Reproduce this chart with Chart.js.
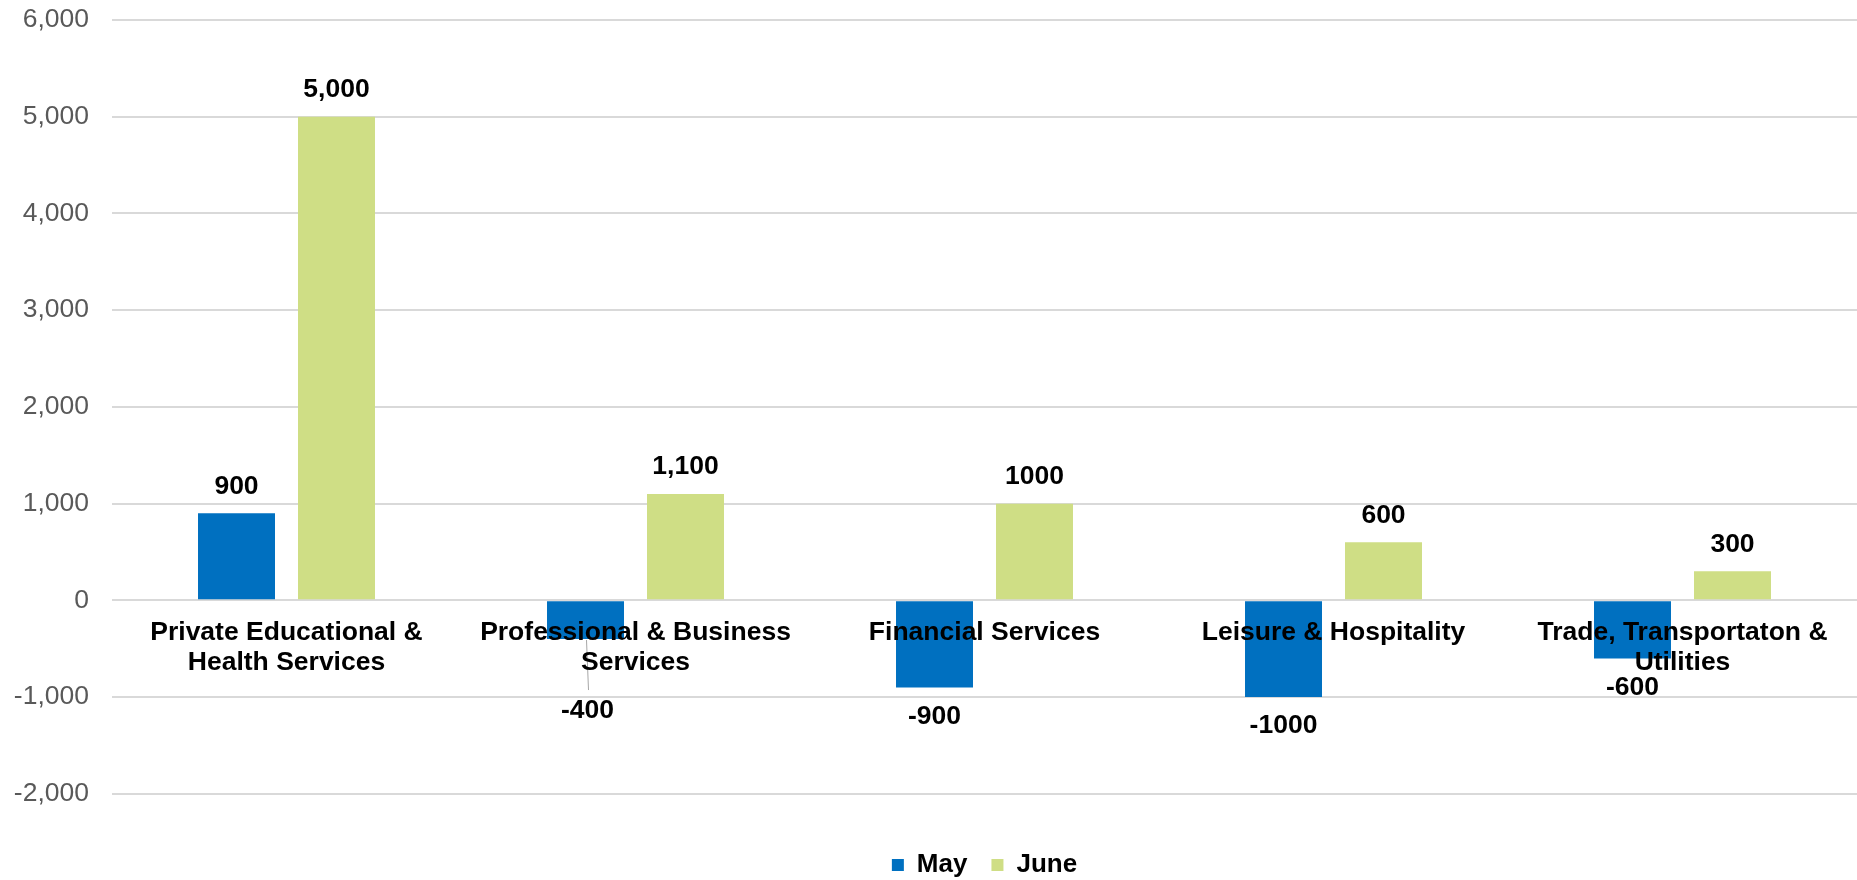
<!DOCTYPE html>
<html>
<head>
<meta charset="utf-8">
<title>Employment change: May vs June</title>
<script src="https://cdn.jsdelivr.net/npm/chart.js@4.4.0/dist/chart.umd.min.js"></script>
<style>
  html, body { margin: 0; padding: 0; background: #fff; }
  #wrap { width: 1857px; height: 880px; }
</style>
</head>
<body>
<div id="wrap"><canvas id="jobsChart"></canvas></div>
<script>
// --- data ---
const categories = [
    ['Private Educational &', 'Health Services'],
    ['Professional & Business', 'Services'],
    'Financial Services',
    'Leisure & Hospitality',
    ['Trade, Transportaton &', 'Utilities']
];
const mayValues = [900, -400, -900, -1000, -600];
const juneValues = [5000, 1100, 1000, 600, 300];
// labels as printed on the bars (source mixes comma / no comma)
const mayLabels = ['900', '-400', '-900', '-1000', '-600'];
const juneLabels = ['5,000', '1,100', '1000', '600', '300'];
const yTicks = [-2000, -1000, 0, 1000, 2000, 3000, 4000, 5000, 6000];

const FONT = '"Liberation Sans", Arial, sans-serif';
Chart.defaults.font.family = FONT;

// value labels above / below each bar
const barLabels = {
    id: 'barLabels',
    afterDatasetsDraw(chart, args, opts) {
        const ctx = chart.ctx;
        const texts = [mayLabels, juneLabels];
        ctx.save();
        ctx.font = 'bold 26.5px ' + FONT;
        ctx.fillStyle = '#000';
        ctx.textAlign = 'center';
        ctx.textBaseline = 'middle';
        chart.data.datasets.forEach((ds, i) => {
            chart.getDatasetMeta(i).data.forEach((bar, j) => {
                const v = ds.data[j];
                const drop = (opts.drop && opts.drop[i + '-' + j]) || 0;
                const y = v >= 0 ? bar.y - 27 : bar.y + 29 + drop;
                if (drop) {
                    // leader line for the moved label
                    ctx.strokeStyle = '#a6a6a6';
                    ctx.lineWidth = 1;
                    ctx.beginPath();
                    ctx.moveTo(bar.x + 1, bar.y + 1);
                    ctx.lineTo(bar.x + 3, y - 21);
                    ctx.stroke();
                }
                ctx.fillText(texts[i][j], bar.x + (drop ? 2 : 0), y);
            });
        });
        ctx.restore();
    }
};

const ctx = document.getElementById('jobsChart').getContext('2d');
new Chart(ctx, {
    type: 'bar',
    data: {
        labels: categories,
        datasets: [
            {
                label: 'May',
                data: mayValues,
                backgroundColor: '#0070C0',
                categoryPercentage: 0.573,
                barPercentage: 0.77
            },
            {
                label: 'June',
                data: juneValues,
                backgroundColor: '#CFDE85',
                categoryPercentage: 0.573,
                barPercentage: 0.77
            }
        ]
    },
    plugins: [barLabels],
    options: {
        responsive: true,
        maintainAspectRatio: false,
        animation: false,
        layout: { padding: { left: 0, right: 0, top: 20, bottom: -8 } },
        plugins: {
            tooltip: { enabled: false },
            barLabels: { drop: { '0-1': 43 } },
            legend: {
                position: 'bottom',
                fullSize: false,
                title: { display: true, text: '', padding: { top: 33, bottom: 0 }, font: { size: 1 } },
                labels: {
                    boxWidth: 12,
                    boxHeight: 12,
                    padding: 24,
                    color: '#000',
                    font: { size: 26, weight: 'bold' }
                }
            }
        },
        scales: {
            x: {
                position: { y: 0 },
                grid: { display: false, drawTicks: false },
                border: { display: false },
                ticks: {
                    z: 1,
                    color: '#000',
                    padding: 17,
                    maxRotation: 0,
                    autoSkip: false,
                    font: { size: 26.5, weight: 'bold', lineHeight: 1.13 }
                }
            },
            y: {
                min: Math.min(...yTicks),
                max: Math.max(...yTicks),
                afterFit(scale) {
                    scale.width = 112;
                    scale.paddingTop = 0;
                    scale.paddingBottom = 0;
                },
                afterBuildTicks(scale) { scale.ticks = yTicks.map(v => ({ value: v })); },
                grid: { color: '#D9D9D9', lineWidth: 2, drawTicks: false },
                border: { display: false },
                ticks: {
                    color: '#595959',
                    padding: 23,
                    font: { size: 26.5 },
                    callback: v => v.toLocaleString('en-US')
                }
            }
        }
    }
});
</script>
</body>
</html>
